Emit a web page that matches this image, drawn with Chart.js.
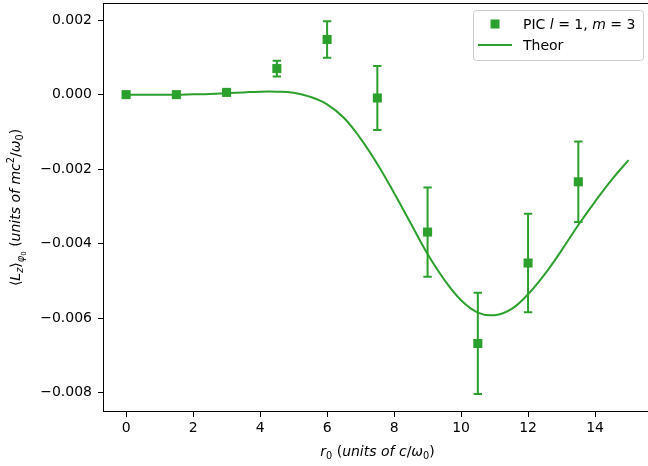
<!DOCTYPE html>
<html>
<head>
<meta charset="utf-8">
<script src="https://cdn.jsdelivr.net/npm/chart.js@4.4.1/dist/chart.umd.min.js"></script>
<style>
  html, body { margin: 0; padding: 0; background: #fff; overflow: hidden; }
  #wrap { position: relative; width: 660px; height: 466px; }
</style>
</head>
<body>
<div id="wrap"><canvas id="c" width="660" height="466"></canvas></div>
<script>
// ---- data ----
const xTickVals = [0, 2, 4, 6, 8, 10, 12, 14];
const yTickVals = [-0.008, -0.006, -0.004, -0.002, 0.000, 0.002];

const picX   = [0, 1.5, 3, 4.5, 6, 7.5, 9, 10.5, 12, 13.5];
const picY   = [0.00000, 0.00000, 0.00006, 0.00070, 0.00148, -0.00009, -0.00369, -0.00668, -0.00452, -0.00234];
const picErr = [0.00002, 0.00002, 0.00002, 0.00021, 0.00049, 0.00086, 0.00120, 0.00136, 0.00132, 0.00108];

const theorX = [0, 0.5, 1, 1.5, 2, 2.5, 3, 3.5, 4, 4.5, 5, 5.5, 6, 6.5, 7, 7.5, 8, 8.5, 9, 9.5, 10, 10.5, 11, 11.5, 12, 12.5, 13, 13.5, 14, 14.5, 15];
const theorY = [0, 0, 0, 0, 0.00001, 0.00002, 0.00004, 0.00006, 0.00008, 0.00008, 0.00005, -0.00006, -0.00026, -0.00062, -0.00118, -0.00186, -0.00264, -0.00346, -0.00428, -0.00497, -0.00552, -0.00585, -0.00592, -0.00576, -0.00536, -0.00482, -0.00418, -0.00350, -0.00287, -0.00228, -0.00176];

const GREEN = '#2ca02c';
const FONT = "'DejaVu Sans', 'Liberation Sans', sans-serif";
const FS = 14;

function fmtY(v) {
  const s = Math.abs(v).toFixed(3);
  return (v < -1e-12 ? '\u2212' : '') + s;
}

function runFont(r) {
  const size = FS * (r.s || 1);
  return (r.it ? 'italic ' : '') + size.toFixed(1) + 'px ' + FONT;
}
function runsWidth(ctx, runs) {
  let w = 0;
  for (const r of runs) { ctx.font = runFont(r); w += ctx.measureText(r.t).width; }
  return w;
}
function drawRuns(ctx, runs, x, y) {
  let cx = x;
  ctx.textBaseline = 'alphabetic';
  ctx.textAlign = 'left';
  for (const r of runs) {
    ctx.font = runFont(r);
    ctx.fillText(r.t, cx, y + (r.dy || 0));
    cx += ctx.measureText(r.t).width;
  }
}

const xTitleRuns = [
  {t: 'r', it: true}, {t: '0', s: 0.7, dy: 3},
  {t: ' ('}, {t: 'units of c', it: true}, {t: '/'}, {t: '\u03c9', it: true},
  {t: '0', s: 0.7, dy: 3}, {t: ')'}
];
const yTitleRuns = [
  {t: '\u27e8'}, {t: 'L', it: true}, {t: 'z', it: true, s: 0.7, dy: 3}, {t: '\u27e9'},
  {t: '\u03c6', it: true, s: 0.7, dy: 4}, {t: '0', s: 0.5, dy: 6},
  {t: ' ('}, {t: 'units of mc', it: true}, {t: '2', s: 0.7, dy: -6}, {t: '/'},
  {t: '\u03c9', it: true}, {t: '0', s: 0.7, dy: 3}, {t: ')'}
];
const leg1Runs = [{t: 'PIC '}, {t: 'l', it: true}, {t: ' = 1, '}, {t: 'm', it: true}, {t: ' = 3'}];
const leg2Runs = [{t: 'Theor'}];

const extras = {
  id: 'extras',
  beforeDatasetsDraw(chart) {
    const ctx = chart.ctx, xs = chart.scales.x, ys = chart.scales.y;
    ctx.save();
    ctx.beginPath();
    ctx.rect(chart.chartArea.left, chart.chartArea.top, chart.chartArea.right - chart.chartArea.left, chart.chartArea.bottom - chart.chartArea.top);
    ctx.clip();
    ctx.strokeStyle = GREEN;
    ctx.lineWidth = 2;
    for (let i = 0; i < picX.length; i++) {
      const px = xs.getPixelForValue(picX[i]);
      const y1 = ys.getPixelForValue(picY[i] + picErr[i]);
      const y2 = ys.getPixelForValue(picY[i] - picErr[i]);
      ctx.beginPath();
      ctx.moveTo(px, y1); ctx.lineTo(px, y2);
      ctx.moveTo(px - 4.2, y1); ctx.lineTo(px + 4.2, y1);
      ctx.moveTo(px - 4.2, y2); ctx.lineTo(px + 4.2, y2);
      ctx.stroke();
    }
    ctx.restore();
  },
  afterDraw(chart) {
    const ctx = chart.ctx, a = chart.chartArea;
    ctx.save();
    ctx.strokeStyle = '#000';
    ctx.lineWidth = 1;
    ctx.strokeRect(a.left + 0.5, a.top + 0.5, a.right - a.left - 1, a.bottom - a.top - 1);
    ctx.fillStyle = '#000';
    const xw = runsWidth(ctx, xTitleRuns);
    drawRuns(ctx, xTitleRuns, (a.left + a.right) / 2 - xw / 2, 456);
    ctx.save();
    ctx.translate(20, (a.top + a.bottom) / 2);
    ctx.rotate(-Math.PI / 2);
    const yw = runsWidth(ctx, yTitleRuns);
    drawRuns(ctx, yTitleRuns, -yw / 2, 0);
    ctx.restore();
    const lx = 473.5, ly = 10.5, lw = 170, lh = 50, rr = 3;
    ctx.beginPath();
    ctx.moveTo(lx + rr, ly);
    ctx.arcTo(lx + lw, ly, lx + lw, ly + lh, rr);
    ctx.arcTo(lx + lw, ly + lh, lx, ly + lh, rr);
    ctx.arcTo(lx, ly + lh, lx, ly, rr);
    ctx.arcTo(lx, ly, lx + lw, ly, rr);
    ctx.closePath();
    ctx.fillStyle = 'rgba(255,255,255,0.8)';
    ctx.fill();
    ctx.strokeStyle = '#cccccc';
    ctx.lineWidth = 1;
    ctx.stroke();
    ctx.fillStyle = GREEN;
    ctx.fillRect(495 - 4.5, 24 - 4.5, 9, 9);
    ctx.strokeStyle = GREEN;
    ctx.lineWidth = 2;
    ctx.beginPath(); ctx.moveTo(478, 45); ctx.lineTo(512, 45); ctx.stroke();
    ctx.fillStyle = '#000';
    drawRuns(ctx, leg1Runs, 523, 29);
    drawRuns(ctx, leg2Runs, 523, 50);
    ctx.restore();
  }
};

new Chart(document.getElementById('c'), {
  data: {
    datasets: [
      {
        type: 'line',
        label: 'Theor',
        data: theorX.map((x, i) => ({x: x, y: theorY[i]})),
        borderColor: GREEN,
        borderWidth: 2,
        pointRadius: 0,
        tension: 0.4,
        fill: false,
        order: 0
      },
      {
        type: 'scatter',
        label: 'PIC l = 1, m = 3',
        data: picX.map((x, i) => ({x: x, y: picY[i]})),
        backgroundColor: GREEN,
        borderColor: GREEN,
        borderWidth: 0,
        pointStyle: 'rect',
        pointRadius: 6.4,
        showLine: false,
        order: 1
      }
    ]
  },
  options: {
    responsive: false,
    devicePixelRatio: 1,
    animation: false,
    events: [],
    layout: { autoPadding: false, padding: { top: 3, right: 8, left: 0, bottom: 0 } },
    plugins: { legend: { display: false }, tooltip: { enabled: false } },
    scales: {
      x: {
        type: 'linear',
        min: -0.69,
        max: 15.7,
        afterBuildTicks: (s) => { s.ticks = xTickVals.map(v => ({value: v})); },
        afterFit: (s) => { s.height = 54; s.paddingLeft = 0; s.paddingRight = 0; },
        ticks: { color: '#000', font: { family: FONT, size: FS }, padding: 3, maxRotation: 0, callback: (v) => String(v) },
        grid: { drawOnChartArea: false, drawTicks: true, tickLength: 5, color: '#000', tickWidth: 1 },
        border: { display: false }
      },
      y: {
        type: 'linear',
        min: -0.00852,
        max: 0.00246,
        afterBuildTicks: (s) => { s.ticks = yTickVals.map(v => ({value: v})); },
        afterFit: (s) => { s.width = 103; s.paddingTop = 0; s.paddingBottom = 0; },
        ticks: { color: '#000', font: { family: FONT, size: FS }, padding: 6, callback: (v) => fmtY(v) },
        grid: { drawOnChartArea: false, drawTicks: true, tickLength: 5, color: '#000', tickWidth: 1 },
        border: { display: false }
      }
    }
  },
  plugins: [extras]
});
</script>
</body>
</html>
